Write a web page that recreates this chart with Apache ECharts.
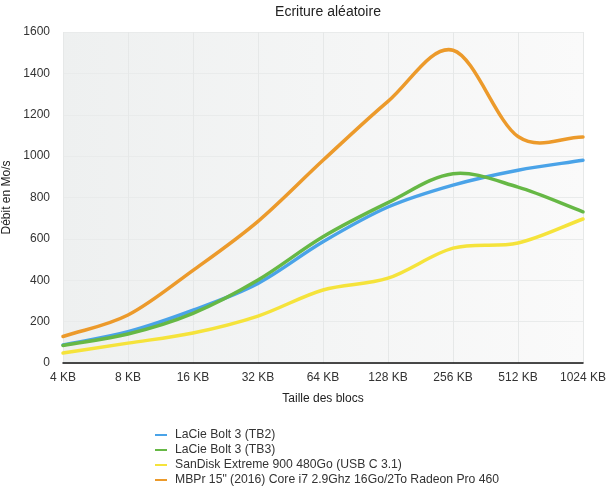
<!DOCTYPE html>
<html><head><meta charset="utf-8">
<script src="https://cdn.jsdelivr.net/npm/echarts@6/dist/echarts.min.js"></script>
<style>html,body{margin:0;padding:0;background:#fff}#c{width:608px;height:486px}</style>
</head><body><div id="c"></div>
<script>
var categories = ['4 KB','8 KB','16 KB','32 KB','64 KB','128 KB','256 KB','512 KB','1024 KB'];
var seriesNames = ['LaCie Bolt 3 (TB2)','LaCie Bolt 3 (TB3)','SanDisk Extreme 900 480Go (USB C 3.1)','MBPr 15" (2016) Core i7 2.9Ghz 16Go/2To Radeon Pro 460'];
var lacieTB2 = [87, 151, 255, 385, 586, 754, 860, 932, 980];
var lacieTB3 = [85, 140, 240, 401, 610, 775, 915, 850, 731];
var sandisk = [48, 96, 145, 227, 353, 410, 555, 580, 696];
var mbpr = [128, 232, 448, 685, 980, 1265, 1512, 1095, 1092];
var yTicks = [0, 200, 400, 600, 800, 1000, 1200, 1400, 1600];
var colors = ['#4aa3e8', '#66b845', '#f5e33b', '#ec9a2b'];
var font = 'Liberation Sans, Helvetica, Arial, sans-serif';
var chart = echarts.init(document.getElementById('c'));
var data = [lacieTB2, lacieTB3, sandisk, mbpr];

function makeRender(values, color) {
  return function(params, api) {
    if (params.dataIndex !== 0) return null;
    var pts = values.map(function(v, j){ return api.coord([j, v]); });
    var n = pts.length;
    function at(k) {
      if (k < 0) return [2 * pts[0][0] - pts[1][0], 2 * pts[0][1] - pts[1][1]];
      if (k > n - 1) return [2 * pts[n - 1][0] - pts[n - 2][0], 2 * pts[n - 1][1] - pts[n - 2][1]];
      return pts[k];
    }
    var d = 'M' + pts[0][0] + ' ' + pts[0][1];
    for (var k = 0; k < n - 1; k++) {
      var p0 = at(k - 1), p1 = at(k), p2 = at(k + 1), p3 = at(k + 2);
      var c1x = p1[0] + (p2[0] - p0[0]) / 6, c1y = p1[1] + (p2[1] - p0[1]) / 6;
      var c2x = p2[0] - (p3[0] - p1[0]) / 6, c2y = p2[1] - (p3[1] - p1[1]) / 6;
      d += ' C' + c1x + ' ' + c1y + ' ' + c2x + ' ' + c2y + ' ' + p2[0] + ' ' + p2[1];
    }
    return {type: 'path', shape: {pathData: d},
      style: {fill: null, stroke: color, lineWidth: 3.5, lineJoin: 'round', lineCap: 'round'}};
  };
}

chart.setOption({
  animation: false,
  color: colors,
  title: {text: 'Ecriture aléatoire', left: 323, top: 0, textAlign: 'center',
    textStyle: {fontFamily: font, fontSize: 14, fontWeight: 'normal', color: '#222'}},
  grid: {left: 63, right: 25, top: 32, bottom: 123, show: true, borderWidth: 0,
    containLabel: false, outerBoundsMode: 'none',
    backgroundColor: new echarts.graphic.LinearGradient(0, 0, 1, 0, [{offset: 0, color: '#eef0f0'}, {offset: 1, color: '#fafafa'}])},
  legend: {orient: 'vertical', left: 155, top: 429, padding: 0, itemWidth: 12, itemHeight: 2, itemGap: 3, icon: 'rect',
    textStyle: {fontFamily: font, fontSize: 12.2, lineHeight: 12, color: '#333', padding: [0, 0, 0, 3]}, data: seriesNames},
  xAxis: {type: 'category', data: categories, boundaryGap: false,
    name: 'Taille des blocs', nameLocation: 'middle', nameGap: 30,
    nameTextStyle: {fontFamily: font, fontSize: 12, color: '#222'},
    axisLine: {lineStyle: {color: '#111', width: 1.5}}, axisTick: {show: false},
    axisLabel: {fontFamily: font, fontSize: 12, color: '#333', margin: 9},
    splitLine: {show: true, lineStyle: {color: '#e6e8e8', width: 1}}},
  yAxis: {type: 'value', min: yTicks[0], max: yTicks[yTicks.length - 1], interval: yTicks[1] - yTicks[0],
    name: 'Débit en Mo/s', nameLocation: 'middle', nameGap: 43, nameRotate: 90,
    nameTextStyle: {fontFamily: font, fontSize: 12, color: '#222'},
    axisLine: {show: false}, axisTick: {show: false},
    axisLabel: {fontFamily: font, fontSize: 12, color: '#333', margin: 13, formatter: function(v){ return String(v); }},
    splitLine: {show: true, lineStyle: {color: '#e9ebeb', width: 1}}},
  series: seriesNames.map(function(n, i){
    return {name: n, type: 'custom', clip: false, z: 2 + i,
      itemStyle: {color: colors[i]},
      encode: {x: 0, y: 1},
      data: data[i].map(function(v, j){ return [j, v]; }),
      renderItem: makeRender(data[i], colors[i])};
  })
});
</script></body></html>
